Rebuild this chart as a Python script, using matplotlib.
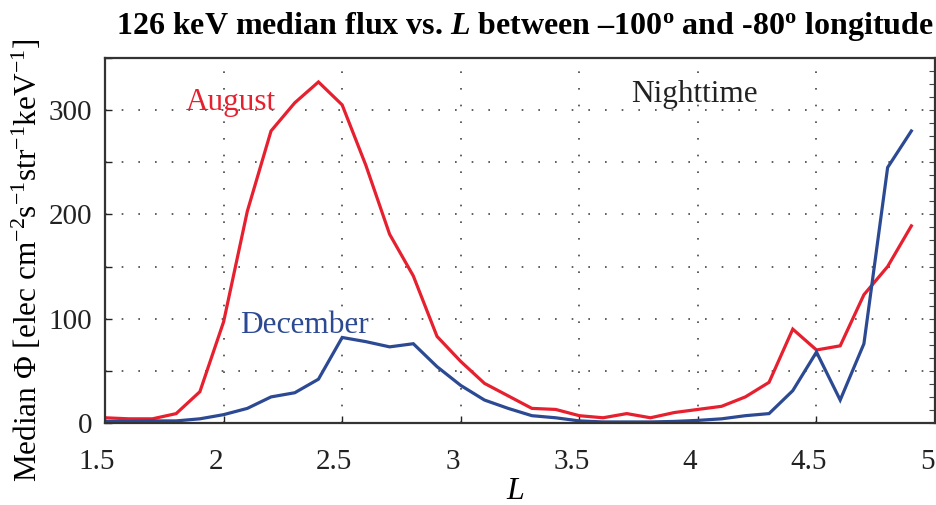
import numpy as np
import matplotlib
matplotlib.use("Agg")
import matplotlib.pyplot as plt
import matplotlib.transforms as mtransforms
from matplotlib.ticker import MultipleLocator, FixedLocator

plt.rcParams['font.family'] = ['Liberation Serif', 'DejaVu Serif']
plt.rcParams['mathtext.fontset'] = 'custom'
plt.rcParams['mathtext.rm'] = 'Liberation Serif'
plt.rcParams['mathtext.it'] = 'Liberation Serif:italic'
plt.rcParams['mathtext.bf'] = 'Liberation Serif:bold'
plt.rcParams['mathtext.bfit'] = 'Liberation Serif:italic:bold'

L_values = [1.5, 1.6, 1.7, 1.8, 1.9, 2.0, 2.1, 2.2, 2.3, 2.4, 2.5, 2.6, 2.7, 2.8, 2.9,
            3.0, 3.1, 3.2, 3.3, 3.4, 3.5, 3.6, 3.7, 3.8, 3.9, 4.0, 4.1, 4.2, 4.3, 4.4,
            4.5, 4.6, 4.7, 4.8, 4.9]
august = [5, 4, 4, 9, 30, 97, 203, 280, 307, 327, 305, 247, 181, 141, 83,
          59, 38, 26, 14, 13, 7, 5, 9, 5, 10, 13, 16, 25, 39, 90,
          70, 74, 123, 150, 189]
december = [1.5, 1.5, 2, 2, 4, 8, 14, 25, 29, 42, 82, 78, 73, 76, 54,
            36, 22, 14, 7, 5, 2, 1, 1, 1, 1.5, 2.5, 4, 7, 9, 31,
            68, 22, 76, 245, 280]
x_ticks = [1.5, 2, 2.5, 3, 3.5, 4, 4.5, 5]
x_tick_labels = ['1.5', '2', '2.5', '3', '3.5', '4', '4.5', '5']
y_ticks = [0, 100, 200, 300]

red = '#e6202e'
blue = '#2c4a93'

fig = plt.figure(figsize=(9.36, 5.05), dpi=100)
ax = fig.add_axes([0.1122, 0.1624, 0.8868, 0.7228])

ax.plot(L_values, august, color=red, lw=2.3, solid_joinstyle='miter')
ax.plot(L_values, december, color=blue, lw=2.3, solid_joinstyle='miter')

ax.set_xlim(1.5, 5)
ax.set_ylim(0, 350)
ax.set_xticks(x_ticks)
ax.set_xticklabels(x_tick_labels)
ax.yaxis.set_major_locator(FixedLocator(y_ticks))
ax.yaxis.set_minor_locator(MultipleLocator(50))

grid_style = dict(color='#444444', linestyle=(0, (1, 9)), linewidth=1.2)
ax.grid(True, which='major', axis='x', **grid_style)
ax.grid(True, which='both', axis='y', **grid_style)

ax.tick_params(axis='both', which='both', direction='in', labelsize=21,
               colors='#222222', length=5, width=1)
ax.tick_params(axis='x', pad=19)
ax.tick_params(axis='y', pad=9)

shift = mtransforms.ScaledTranslation(-8 / 100, 0, fig.dpi_scale_trans)
for lab in ax.get_xticklabels():
    lab.set_transform(lab.get_transform() + shift)

sec = ax.secondary_yaxis('right')
sec.set_yticks(np.arange(0, 351, 12.5))
sec.tick_params(direction='in', length=4, width=0.8, labelright=False, colors='#444444')
sec.spines['right'].set_visible(False)

for sp in ax.spines.values():
    sp.set_linewidth(1.6)
    sp.set_color('#333333')

ax.set_xlabel('L', fontsize=23, style='italic')
ax.xaxis.set_label_coords(0.494, -0.148)
ax.set_ylabel(r'Median $\Phi$ [elec cm$^{-2}$s$^{-1}$str$^{-1}$keV$^{-1}$]', fontsize=22.5)
ax.yaxis.set_label_coords(-0.073, 0.445)

ax.text(1.84, 307, 'August', color=red, fontsize=22.5, va='center', ha='left')
ax.text(2.07, 93, 'December', color=blue, fontsize=22.5, va='center', ha='left')
ax.text(3.72, 315, 'Nighttime', color='#222222', fontsize=22.5, va='center', ha='left')

fig.text(0.561, 0.948,
         r'126 keV median flux vs. $\mathbfit{L}$ between –100$^{\mathbf{o}}$ and -80$^{\mathbf{o}}$ longitude',
         fontsize=23, fontweight='bold', ha='center', va='center')

fig.savefig('out.png', dpi=100)
